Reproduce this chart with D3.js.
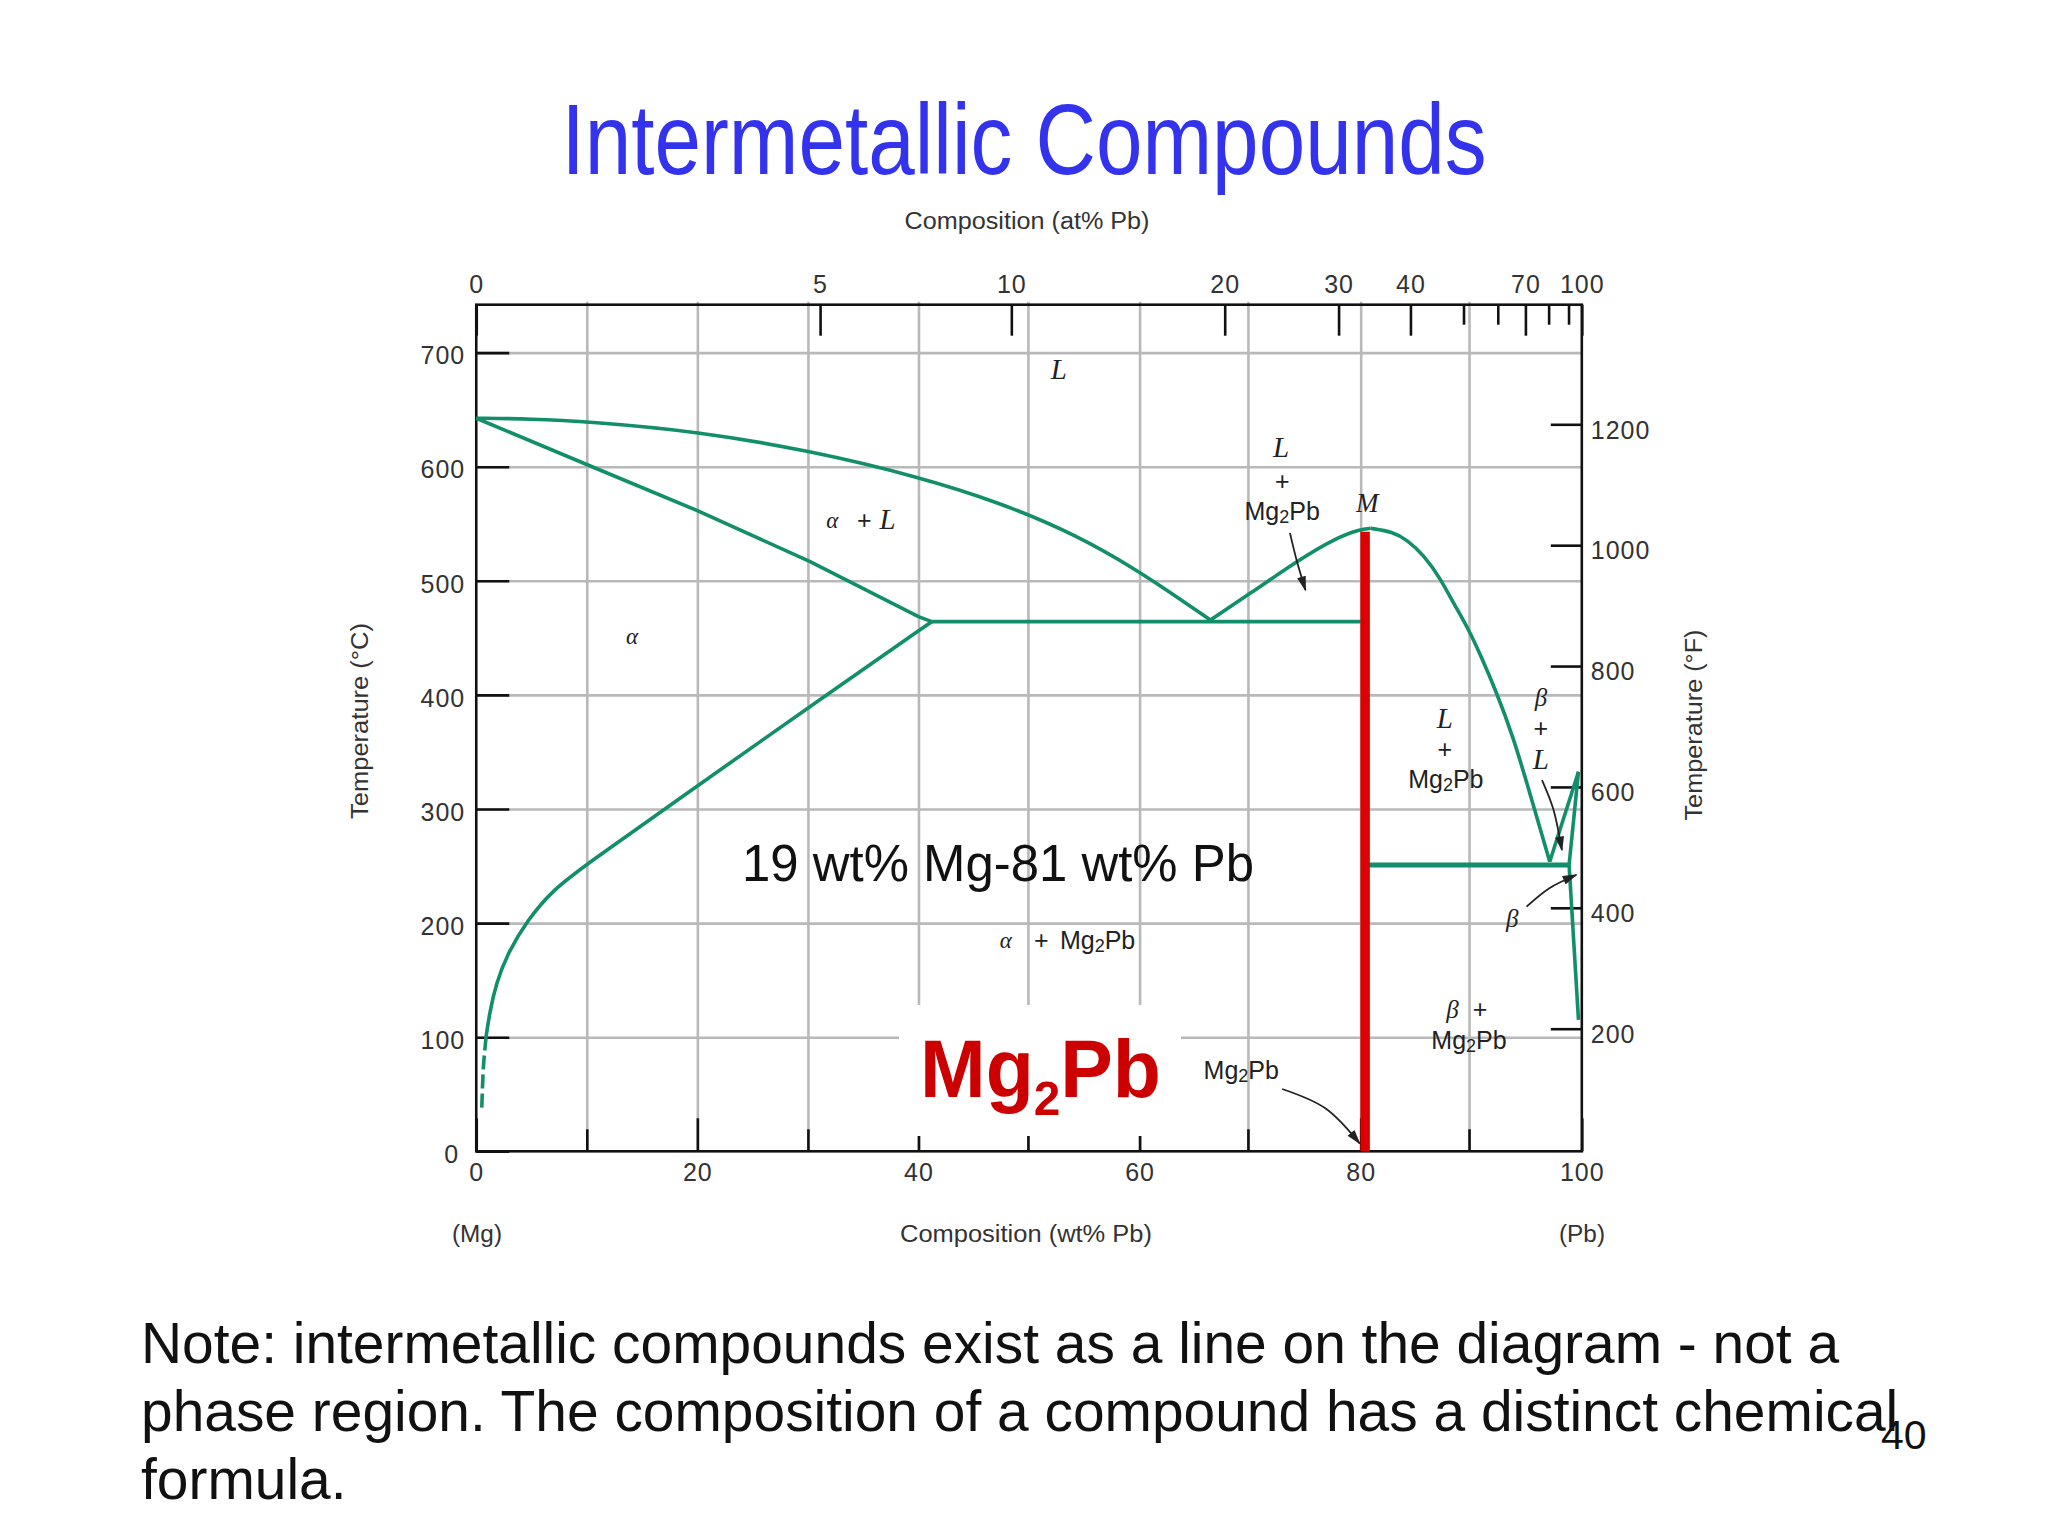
<!DOCTYPE html>
<html>
<head>
<meta charset="utf-8">
<title>Intermetallic Compounds</title>
<script src="https://cdn.jsdelivr.net/npm/d3@7/dist/d3.min.js"></script>
<style>
    html, body { margin: 0; padding: 0; background: #fff; }
    svg { display: block; }
</style>
</head>
<body>
<svg id="chart" width="2048" height="1536"></svg>
<script>

/**
 * Mg-Pb phase diagram, all curves are [wt% Pb, temperature in C]
 */
var liquidusMg = [[0, 642.5], [5, 642], [10.1, 639.5], [20, 631], [30.2, 614], [40, 591.3], [47.4, 568.5],
    [54.3, 540.2], [60, 508], [63.5, 485], [66.4, 465.7]];
var liquidusCompoundLeft = [[66.4, 465.7], [69.9, 488.2], [74.4, 518.3], [77.7, 537.3], [80, 545.2], [80.9, 546]];
var liquidusCompoundRight = [[80.9, 546], [82.9, 543], [84.2, 535.8], [85.7, 522.7], [87.2, 502.2], [88.4, 480.3],
    [89.8, 456.9], [90.9, 433.5], [92.2, 404.3], [93.8, 363.4], [95.3, 313.8], [97.1, 253.8]];
var liquidusPb = [[97.1, 253.8], [99.7, 332.7]];
var solidusPb = [[99.7, 332.7], [98.85, 251]];
var solvusPb = [[98.85, 251], [99.7, 115.1]];
var solidusMg = [[0, 642.5], [10.1, 601.5], [20, 561.5], [30.2, 516.8], [40, 468.6], [41.2, 464.2]];
var solvusMg = [[41.2, 464.2], [32.3, 404.3], [18.2, 307.9], [10.1, 252.4], [6.9, 229], [4.64, 202.7],
    [2.83, 173.5], [1.8, 147.2], [1.2, 121], [0.89, 100.5]];
var solvusMgDashed = [[0.89, 100.5], [0.65, 74.2], [0.49, 34.7]];
var eutecticMg = [[41.2, 464.2], [80, 464.2]];
var eutecticPb = [[80.4, 251], [98.85, 251]];
var compoundLine = [[80.4, 0], [80.4, 543]];

// axes
var tempTicks = [0, 100, 200, 300, 400, 500, 600, 700];
var fahrenheitTicks = [200, 400, 600, 800, 1000, 1200];
var wtTicksMajor = [0, 20, 40, 60, 80, 100];
var wtTicksMinor = [10, 30, 49.9, 69.8, 89.8];
var wtGrid = [10, 20, 30, 40, 49.9, 60, 69.8, 80, 89.8];
var tempGrid = [100, 200, 300, 400, 500, 600, 700];

// the at% scale on top, where each tick sits on the wt% scale
var atLabels = ['0', '5', '10', '20', '30', '40', '70', '100'];
var atTicksMajor = [0, 31.1, 48.4, 67.7, 78, 84.5, 94.9, 100];
var atTicksMinor = [89.3, 92.4, 97, 98.8];

// small arrows, [wt% Pb, temperature]
var arrowLiquid = [[73.6, 542], [74.2, 518.3], [75, 492]];
var arrowBetaLiquid = [[96.4, 325.4], [97.4, 300.6], [98.2, 264.1]];
var arrowBeta = [[95, 214.4], [97.1, 230.8], [99.5, 242.2]];
var arrowCompound = [[72.9, 54.6], [76.8, 37.7], [79.9, 7]];

var noteLines = [
    'Note: intermetallic compounds exist as a line on the diagram - not a',
    'phase region. The composition of a compound has a distinct chemical',
    'formula.'
];

var GREEN = '#128f6a';
var RED = '#dd0000';
var GRID = '#b9b9b9';
var SANS = '"Liberation Sans", Arial, sans-serif';
var SERIF = '"Liberation Serif", "Times New Roman", serif';

var svg = d3.select('#chart');

var x = d3.scaleLinear().domain([0, 100]).range([476.25, 1581.8]);
var y = d3.scaleLinear().domain([0, 742]).range([1151.3, 304.7]);
var yF = d3.scaleLinear().domain([200, 1200]).range([1028.7, 424.3]);

var plotTop = y(742);
var plotBottom = y(0);
var plotLeft = x(0);
var plotRight = x(100);


/**
 * Grid lines first, the white patch behind the big label cuts them later on
 */
svg.append('g')
    .attr('transform', 'translate(0,' + plotBottom + ')')
    .call(d3.axisBottom(x).tickValues(wtGrid).tickSize(-(plotBottom - plotTop + 3)).tickFormat(''))
    .call(cleanGrid);

svg.append('g')
    .attr('transform', 'translate(' + plotLeft + ',0)')
    .call(d3.axisLeft(y).tickValues(tempGrid).tickSize(-(plotRight - plotLeft)).tickFormat(''))
    .call(cleanGrid);

function cleanGrid(g) {
    g.select('.domain').remove();
    g.selectAll('line').attr('stroke', GRID).attr('stroke-width', 2.6);
}

function styleAxis(g) {
    g.select('.domain').remove();
    g.attr('font-family', SANS).attr('font-size', 25);
    g.selectAll('line').attr('stroke', '#111').attr('stroke-width', 2.6);
    g.selectAll('text').attr('fill', '#333').attr('letter-spacing', 1);
}

// temperature C
svg.append('g')
    .attr('transform', 'translate(' + plotLeft + ',0)')
    .call(d3.axisLeft(y).tickValues(tempTicks).tickSize(-33).tickPadding(11))
    .call(styleAxis)
    .call(function(g) {
        g.selectAll('text').attr('dy', '0.45em');
        g.selectAll('text').filter(function(d) { return d === 0; }).attr('x', -17);
    });

// temperature F
svg.append('g')
    .attr('transform', 'translate(' + plotRight + ',0)')
    .call(d3.axisRight(yF).tickValues(fahrenheitTicks).tickSize(-31).tickPadding(9).tickFormat(d3.format('d')))
    .call(styleAxis)
    .call(function(g) { g.selectAll('text').attr('dy', '0.55em'); });

// wt% along the bottom
svg.append('g')
    .attr('transform', 'translate(0,' + plotBottom + ')')
    .call(d3.axisBottom(x).tickValues(wtTicksMajor).tickSize(-33).tickPadding(12))
    .call(styleAxis);

svg.append('g')
    .attr('transform', 'translate(0,' + plotBottom + ')')
    .call(d3.axisBottom(x).tickValues(wtTicksMinor).tickSize(-22).tickFormat(''))
    .call(styleAxis);

// at% along the top
svg.append('g')
    .attr('transform', 'translate(0,' + plotTop + ')')
    .call(d3.axisTop(x).tickValues(atTicksMajor).tickSize(-31).tickPadding(12)
        .tickFormat(function(d, i) { return atLabels[i]; }))
    .call(styleAxis);

svg.append('g')
    .attr('transform', 'translate(0,' + plotTop + ')')
    .call(d3.axisTop(x).tickValues(atTicksMinor).tickSize(-20).tickFormat(''))
    .call(styleAxis);

// white patch behind the Mg2Pb label
svg.append('rect')
    .attr('x', 899)
    .attr('y', 1005)
    .attr('width', 282)
    .attr('height', 131)
    .attr('fill', '#fff');

svg.append('rect')
    .attr('x', plotLeft)
    .attr('y', plotTop)
    .attr('width', plotRight - plotLeft)
    .attr('height', plotBottom - plotTop)
    .attr('fill', 'none')
    .attr('stroke', '#111')
    .attr('stroke-width', 2.6);


/**
 * Phase boundaries
 */
var line = d3.line()
    .x(function(d) { return x(d[0]); })
    .y(function(d) { return y(d[1]); });

var smooth = d3.line()
    .x(function(d) { return x(d[0]); })
    .y(function(d) { return y(d[1]); })
    .curve(d3.curveBasis);

var through = d3.line()
    .x(function(d) { return x(d[0]); })
    .y(function(d) { return y(d[1]); })
    .curve(d3.curveCatmullRom);

function boundary(data, gen, width, dash, color) {
    svg.append('path')
        .attr('d', gen(data))
        .attr('fill', 'none')
        .attr('stroke', color || GREEN)
        .attr('stroke-width', width)
        .attr('stroke-dasharray', dash || null);
}

boundary(liquidusMg, smooth, 3.6);
boundary(liquidusCompoundLeft, smooth, 3.6);
boundary(liquidusCompoundRight, smooth, 3.6);
boundary(liquidusPb, line, 3.6);
boundary(solidusPb, line, 3.6);
boundary(solvusPb, line, 3.6);
boundary(solidusMg, line, 3.6);
boundary(solvusMg, smooth, 3.6);
boundary(solvusMgDashed, through, 3.6, '14,5');
boundary(eutecticMg, line, 3.8);
boundary(eutecticPb, line, 5);

// the compound itself
boundary(compoundLine, line, 9.5, null, RED);


/**
 * Arrows
 */
svg.append('defs').append('marker')
    .attr('id', 'head')
    .attr('viewBox', '0 0 10 6')
    .attr('refX', 9)
    .attr('refY', 3)
    .attr('markerWidth', 16)
    .attr('markerHeight', 9)
    .attr('markerUnits', 'userSpaceOnUse')
    .attr('orient', 'auto')
    .append('path')
    .attr('d', 'M0,0 L10,3 L0,6 Z')
    .attr('fill', '#222');

[arrowLiquid, arrowBetaLiquid, arrowBeta, arrowCompound].forEach(function(a) {
    svg.append('path')
        .attr('d', through(a))
        .attr('fill', 'none')
        .attr('stroke', '#222')
        .attr('stroke-width', 1.8)
        .attr('marker-end', 'url(#head)');
});


/**
 * Text
 */
function label(wt, temp, str, opts) {
    opts = opts || {};
    return svg.append('text')
        .attr('x', x(wt))
        .attr('y', y(temp))
        .attr('text-anchor', 'middle')
        .attr('dominant-baseline', 'central')
        .attr('font-family', opts.family || SANS)
        .attr('font-style', opts.italic ? 'italic' : 'normal')
        .attr('font-size', opts.size || 25)
        .attr('fill', '#222')
        .text(str);
}

function italic(wt, temp, str, size) {
    return label(wt, temp, str, {family: SERIF, italic: true, size: size || 29});
}

function mg2pb(wt, temp) {
    var t = label(wt, temp, 'Mg');
    t.append('tspan').attr('font-size', 18).attr('dy', 6).text('2');
    t.append('tspan').attr('dy', -6).text('Pb');
}

italic(52.7, 685.6, 'L');
italic(14.1, 451.5, 'α', 23);
italic(32.2, 553.3, 'α', 23);
label(35.1, 553.3, '+');
italic(37.2, 554.6, 'L');

italic(72.8, 617.3, 'L');
label(72.9, 587.9, '+');
mg2pb(72.9, 561.2);
italic(80.6, 568.2, 'M', 27);

italic(87.6, 380, 'L');
label(87.6, 353, '+');
mg2pb(87.7, 326.5);

italic(96.3, 397.9, 'β', 25);
label(96.3, 370.8, '+');
italic(96.3, 343.6, 'L');
italic(93.7, 204.2, 'β', 25);

italic(88.3, 124.5, 'β', 25);
label(90.8, 124.5, '+');
mg2pb(89.8, 97.5);

italic(47.9, 184.9, 'α', 23);
label(51.1, 184.9, '+');
mg2pb(56.2, 185.5);
mg2pb(69.2, 71.5);

function plain(px, py, str, size, len, anchor, rotate) {
    var t = svg.append('text')
        .attr('x', px)
        .attr('y', py)
        .attr('text-anchor', anchor || 'middle')
        .attr('font-family', SANS)
        .attr('font-size', size)
        .attr('fill', '#333')
        .text(str);
    if (len) t.attr('textLength', len).attr('lengthAdjust', 'spacingAndGlyphs');
    if (rotate) t.attr('transform', 'rotate(-90 ' + px + ' ' + py + ')');
    return t;
}

plain(1027, 229, 'Composition (at% Pb)', 23, 245);
plain(1026, 1242, 'Composition (wt% Pb)', 23, 252);
plain(477, 1242, '(Mg)', 23, 50);
plain(1582, 1242, '(Pb)', 23, 46);
plain(368, 721, 'Temperature (°C)', 23, 196, 'middle', true);
plain(1702, 725, 'Temperature (°F)', 23, 191, 'middle', true);

plain(1024, 174, 'Intermetallic Compounds', 100, 925).attr('fill', '#3333ee');

plain(742, 881, '19 wt% Mg-81 wt% Pb', 52, 512, 'start').attr('fill', '#111');

var big = svg.append('text')
    .attr('x', 920)
    .attr('y', 1097)
    .attr('font-family', SANS)
    .attr('font-weight', 'bold')
    .attr('font-size', 81)
    .attr('fill', '#cc0000')
    .attr('textLength', 241)
    .attr('lengthAdjust', 'spacingAndGlyphs');
big.append('tspan').text('Mg');
big.append('tspan').attr('font-size', 49).attr('dy', 18).text('2');
big.append('tspan').attr('dy', -18).text('Pb');

svg.selectAll('.note')
    .data(noteLines)
    .enter()
    .append('text')
    .attr('class', 'note')
    .attr('x', 141)
    .attr('y', function(d, i) { return 1363 + i * 68; })
    .attr('font-family', SANS)
    .attr('font-size', 56.9)
    .attr('fill', '#111')
    .text(function(d) { return d; });

plain(1881, 1449, '40', 41, null, 'start').attr('fill', '#111');

</script>
</body>
</html>
